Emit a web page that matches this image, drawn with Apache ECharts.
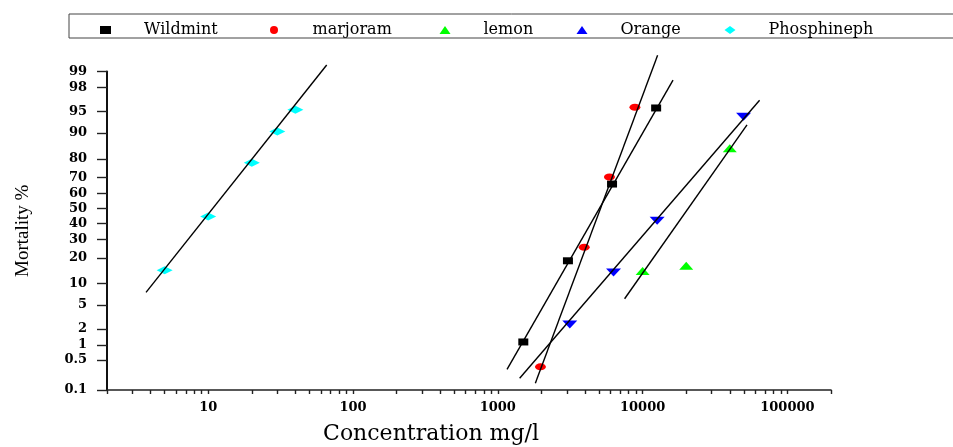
<!DOCTYPE html>
<html>
<head>
<meta charset="utf-8">
<script src="https://cdn.jsdelivr.net/npm/echarts@6/dist/echarts.min.js"></script>
<style>html,body{margin:0;padding:0;background:#fff}#c{width:953px;height:447px}</style>
</head>
<body>
<div id="c"></div>
<script>
// ---- data (concentration mg/l, mortality %) ----
const seriesNames = ['Wildmint', 'marjoram', 'lemon', 'Orange', 'Phosphineph'];

const wildmintConc = [1500, 3050, 6150, 12400];
const wildmintMort = [1.15, 18.6, 66, 95.6];
const marjoramConc = [1970, 3950, 5900, 8850];
const marjoramMort = [0.35, 25.4, 70.3, 95.7];
const lemonConc = [10000, 20000, 40000];
const lemonMort = [14.3, 16.4, 84.6];
const orangeConc = [3140, 6300, 12600, 49800];
const orangeMort = [2.4, 13.7, 41.6, 94];
const phosConc = [5, 10, 20, 30, 40];
const phosMort = [14.6, 44.5, 78.1, 90.4, 95.3];

// fitted probit regression lines (end points: concentration, mortality %)
const wildmintFitConc = [1158, 16220];
const wildmintFitMort = [0.309, 98.53];
const marjoramFitConc = [1816, 12695];
const marjoramFitMort = [0.146, 99.54];
const orangeFitConc = [1415, 64270];
const orangeFitMort = [0.192, 96.7];
const lemonFitConc = [7510, 52600];
const lemonFitMort = [6.2, 92.2];
const phosFitConc = [3.72, 65.8];
const phosFitMort = [7.65, 99.26];

// axis ticks
const yTickLabels = ['0.1', '0.5', '1', '2', '5', '10', '20', '30', '40', '50', '60', '70', '80', '90', '95', '98', '99'];
const xTickLabels = [10, 100, 1000, 10000, 100000];
const xMinorTicks = [2, 3, 4, 5, 6, 7, 8, 9, 10, 20, 30, 40, 50, 60, 70, 80, 90, 100,
  200, 300, 400, 500, 600, 700, 800, 900, 1000, 2000, 3000, 4000, 5000, 6000, 7000, 8000, 9000, 10000,
  20000, 30000, 40000, 50000, 60000, 70000, 80000, 90000, 100000, 200000];

// ---- probit scale (inverse normal CDF, Acklam) ----
function probit(pct) {
  const p = pct / 100;
  const a = [-3.969683028665376e+01, 2.209460984245205e+02, -2.759285104469687e+02, 1.383577518672690e+02, -3.066479806614716e+01, 2.506628277459239e+00];
  const b = [-5.447609879822406e+01, 1.615858368580409e+02, -1.556989798598866e+02, 6.680131188771972e+01, -1.328068155288572e+01];
  const c = [-7.784894002430293e-03, -3.223964580411365e-01, -2.400758277161838e+00, -2.549732539343734e+00, 4.374664141464968e+00, 2.938163982698783e+00];
  const d = [7.784695709041462e-03, 3.224671290700398e-01, 2.445134137142996e+00, 3.754408661907416e+00];
  const pl = 0.02425, ph = 1 - pl;
  let q, r;
  if (p < pl) {
    q = Math.sqrt(-2 * Math.log(p));
    return (((((c[0]*q+c[1])*q+c[2])*q+c[3])*q+c[4])*q+c[5]) / ((((d[0]*q+d[1])*q+d[2])*q+d[3])*q+1);
  } else if (p <= ph) {
    q = p - 0.5; r = q * q;
    return (((((a[0]*r+a[1])*r+a[2])*r+a[3])*r+a[4])*r+a[5])*q / (((((b[0]*r+b[1])*r+b[2])*r+b[3])*r+b[4])*r+1);
  } else {
    q = Math.sqrt(-2 * Math.log(1 - p));
    return -(((((c[0]*q+c[1])*q+c[2])*q+c[3])*q+c[4])*q+c[5]) / ((((d[0]*q+d[1])*q+d[2])*q+d[3])*q+1);
  }
}
const yTickZ = yTickLabels.map(s => probit(parseFloat(s)));
function pairs(xs, ys) { return xs.map((x, i) => [x, probit(ys[i])]); }
function yLabel(v) {
  let best = 0;
  for (let i = 1; i < yTickZ.length; i++) if (Math.abs(yTickZ[i] - v) < Math.abs(yTickZ[best] - v)) best = i;
  return yTickLabels[best];
}

const slotW = [94, 95, 61, 72, 125];
const rich = { g: { width: 28 } };
seriesNames.forEach((n, i) => { rich['s' + i] = { width: slotW[i], fontFamily: 'DejaVu Serif', fontSize: 16, color: '#000' }; });

function scatter(name, xs, ys, symbol, size, color, rot) {
  return {
    name, type: 'scatter', data: pairs(xs, ys), symbol, symbolSize: size, symbolRotate: rot || 0,
    itemStyle: { color, opacity: 1 }, z: 2
  };
}
function fit(xs, ys) {
  return {
    type: 'line', data: pairs(xs, ys), symbol: 'none', clip: false, silent: true, z: 3,
    lineStyle: { color: '#000', width: 1.4 }
  };
}

const chart = echarts.init(document.getElementById('c'));
chart.setOption({
  animation: false,
  backgroundColor: '#fff',
  grid: { left: 107, right: 122, top: 71.5, bottom: 57, containLabel: false, outerBoundsMode: 'none' },
  legend: {
    data: seriesNames,
    left: 69, top: 14, width: 1200,
    padding: [8, 100, 0, 31],
    itemGap: 32,
    itemWidth: 11, itemHeight: 8,
    borderColor: '#444', borderWidth: 1,
    textStyle: { fontFamily: 'DejaVu Serif', fontSize: 16, lineHeight: 16, color: '#000', rich },
    formatter: name => '{g|\u00a0}{s' + seriesNames.indexOf(name) + '|' + name + '}'
  },
  xAxis: {
    type: 'log', logBase: 10, min: 2, max: 200000,
    name: 'Concentration mg/l', nameLocation: 'middle', nameGap: 33,
    nameTextStyle: { fontFamily: 'DejaVu Serif', fontSize: 22, color: '#000', padding: [0, 76, 0, 0] },
    axisLine: { onZero: false, lineStyle: { color: '#222', width: 1.6 } },
    axisTick: { show: true, inside: false, length: 4, customValues: xMinorTicks, lineStyle: { color: '#222', width: 1.4 } },
    axisLabel: {
      customValues: xTickLabels, margin: 11,
      fontFamily: 'DejaVu Serif', fontWeight: 'bold', fontSize: 13, color: '#000',
      formatter: v => String(Math.round(v))
    },
    splitLine: { show: false }, minorTick: { show: false }, minorSplitLine: { show: false }
  },
  yAxis: {
    type: 'value', min: probit(0.1), max: probit(99),
    name: 'Mortality %', nameLocation: 'middle', nameGap: 74, nameRotate: 90,
    nameTextStyle: { fontFamily: 'Liberation Serif', fontSize: 19, color: '#000' },
    axisLine: { show: true, onZero: false, lineStyle: { color: '#111', width: 2 } },
    axisTick: { show: true, inside: false, length: 10, customValues: yTickZ, lineStyle: { color: '#222', width: 1.4 } },
    axisLabel: {
      customValues: yTickZ, margin: 20,
      fontFamily: 'DejaVu Serif', fontWeight: 'bold', fontSize: 13, color: '#000',
      formatter: v => yLabel(v)
    },
    splitLine: { show: false }
  },
  series: [
    scatter('Wildmint', wildmintConc, wildmintMort, 'rect', [10, 7], '#000000'),
    scatter('marjoram', marjoramConc, marjoramMort, 'circle', [11, 7], '#ff0000'),
    scatter('lemon', lemonConc, lemonMort, 'triangle', [14, 8], '#00ff00'),
    scatter('Orange', orangeConc, orangeMort, 'triangle', [15, 8], '#0000ff', 180),
    scatter('Phosphineph', phosConc, phosMort, 'diamond', [16, 8], '#00ffff'),
    fit(wildmintFitConc, wildmintFitMort),
    fit(marjoramFitConc, marjoramFitMort),
    fit(orangeFitConc, orangeFitMort),
    fit(lemonFitConc, lemonFitMort),
    fit(phosFitConc, phosFitMort)
  ]
});
</script>
</body>
</html>
